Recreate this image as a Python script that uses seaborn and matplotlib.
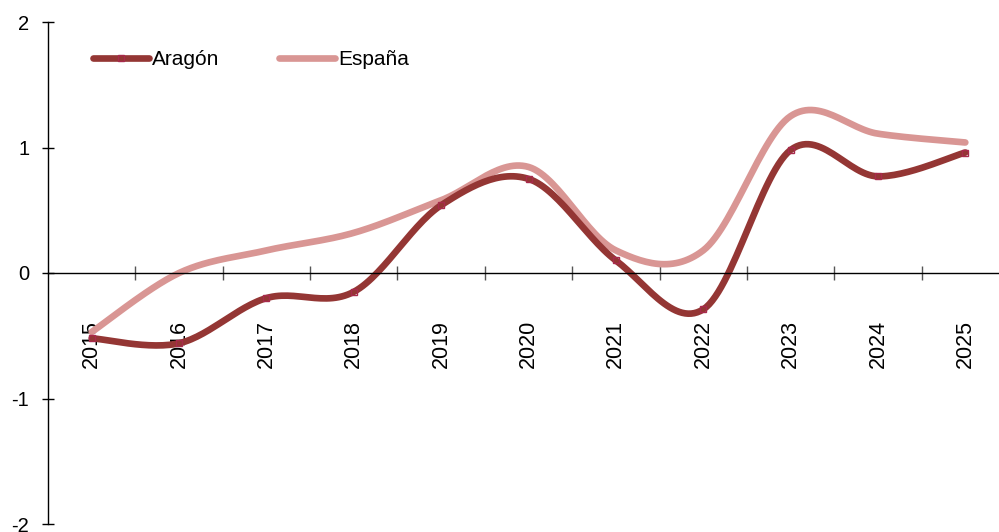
import numpy as np
import pandas as pd
import seaborn as sns
import matplotlib.pyplot as plt
from matplotlib.lines import Line2D

years = ["2015", "2016", "2017", "2018", "2019", "2020",
         "2021", "2022", "2023", "2024", "2025"]
aragon = [-0.52, -0.56, -0.20, -0.15, 0.54, 0.75, 0.10, -0.29, 0.98, 0.77, 0.96]
espana = [-0.47, 0.00, 0.18, 0.32, 0.58, 0.845, 0.18, 0.18, 1.25, 1.11, 1.04]

COL_ARA = "#943634"
COL_ESP = "#d99694"
COL_MARK = "#a82a4c"


def smooth(y, n=30):
    # Excel-style smoothed line (Catmull-Rom as cubic Bezier)
    x = np.arange(len(y), dtype=float)
    y = np.asarray(y, dtype=float)
    px = np.concatenate([[x[0]], x, [x[-1]]])
    py = np.concatenate([[y[0]], y, [y[-1]]])
    t = np.linspace(0, 1, n)[:, None]
    xs, ys = [], []
    for i in range(len(y) - 1):
        p0 = np.array([px[i + 1], py[i + 1]])
        p3 = np.array([px[i + 2], py[i + 2]])
        c1 = p0 + (p3 - np.array([px[i], py[i]])) / 6
        c2 = p3 - (np.array([px[i + 3], py[i + 3]]) - p0) / 6
        b = ((1 - t) ** 3) * p0 + 3 * ((1 - t) ** 2) * t * c1 + 3 * (1 - t) * t ** 2 * c2 + t ** 3 * p3
        xs.extend(b[:, 0])
        ys.extend(b[:, 1])
    return xs, ys


rows = []
for name, vals in [("Aragón", aragon), ("España", espana)]:
    xs, ys = smooth(vals)
    rows.append(pd.DataFrame({"x": xs, "y": ys, "serie": name}))
df = pd.concat(rows, ignore_index=True)

sns.set_style("white")
plt.rcParams["font.family"] = ["Liberation Sans", "DejaVu Sans"]

fig = plt.figure(figsize=(9.99, 5.32), dpi=100)
ax = fig.add_axes([48 / 999, 8 / 532, 961 / 999, 502 / 532])

sns.lineplot(data=df[df.serie == "España"], x="x", y="y", color=COL_ESP,
             lw=4.8, sort=False, ax=ax, legend=False, solid_capstyle="round")
sns.lineplot(data=df[df.serie == "Aragón"], x="x", y="y", color=COL_ARA,
             lw=4.8, sort=False, ax=ax, legend=False, solid_capstyle="round")
ax.plot(range(len(years)), aragon, ls="none", marker="s", ms=3.8,
        mfc="none", mec=COL_MARK, mew=1.0)

ax.set_xlim(-0.5, 10.5)
ax.set_ylim(-2, 2)
ax.set_yticks([-2, -1, 0, 1, 2])
ax.set_yticklabels(["-2", "-1", "0", "1", "2"])
ax.set_xticks(range(len(years)))
ax.set_xticklabels(years)
ax.set_xticks(np.arange(0.5, 10.5, 1), minor=True)
ax.tick_params(axis="x", which="major", bottom=True, length=0, pad=34,
               labelrotation=90, labelsize=15.5, labelcolor="black")
ax.tick_params(axis="x", which="minor", bottom=True, length=10, width=1,
               direction="inout", color="#555555")
ax.tick_params(axis="y", left=True, length=9, width=1, direction="inout",
               pad=9, labelsize=14.5, labelcolor="black", color="black")
ax.set_xlabel("")
ax.set_ylabel("")

for s in ["top", "right"]:
    ax.spines[s].set_visible(False)
ax.spines["bottom"].set_position(("data", 0))
ax.spines["left"].set_color("black")
ax.spines["bottom"].set_color("black")
ax.spines["left"].set_linewidth(1)
ax.spines["bottom"].set_linewidth(1)

handles = [
    Line2D([], [], color=COL_ARA, lw=4.8, solid_capstyle="round", marker="s",
           ms=3.8, mfc="none", mec=COL_MARK, mew=1.0),
    Line2D([], [], color=COL_ESP, lw=4.8, solid_capstyle="round"),
]
leg = ax.legend(handles, ["Aragón", "España"], ncol=2, frameon=False, fontsize=15,
                loc="upper left", bbox_to_anchor=(0.038, 0.96), handlelength=2.7,
                handletextpad=0.15, columnspacing=2.85, borderaxespad=0)
for txt in leg.get_texts():
    txt.set_color("black")

fig.savefig("out.png", dpi=100)
